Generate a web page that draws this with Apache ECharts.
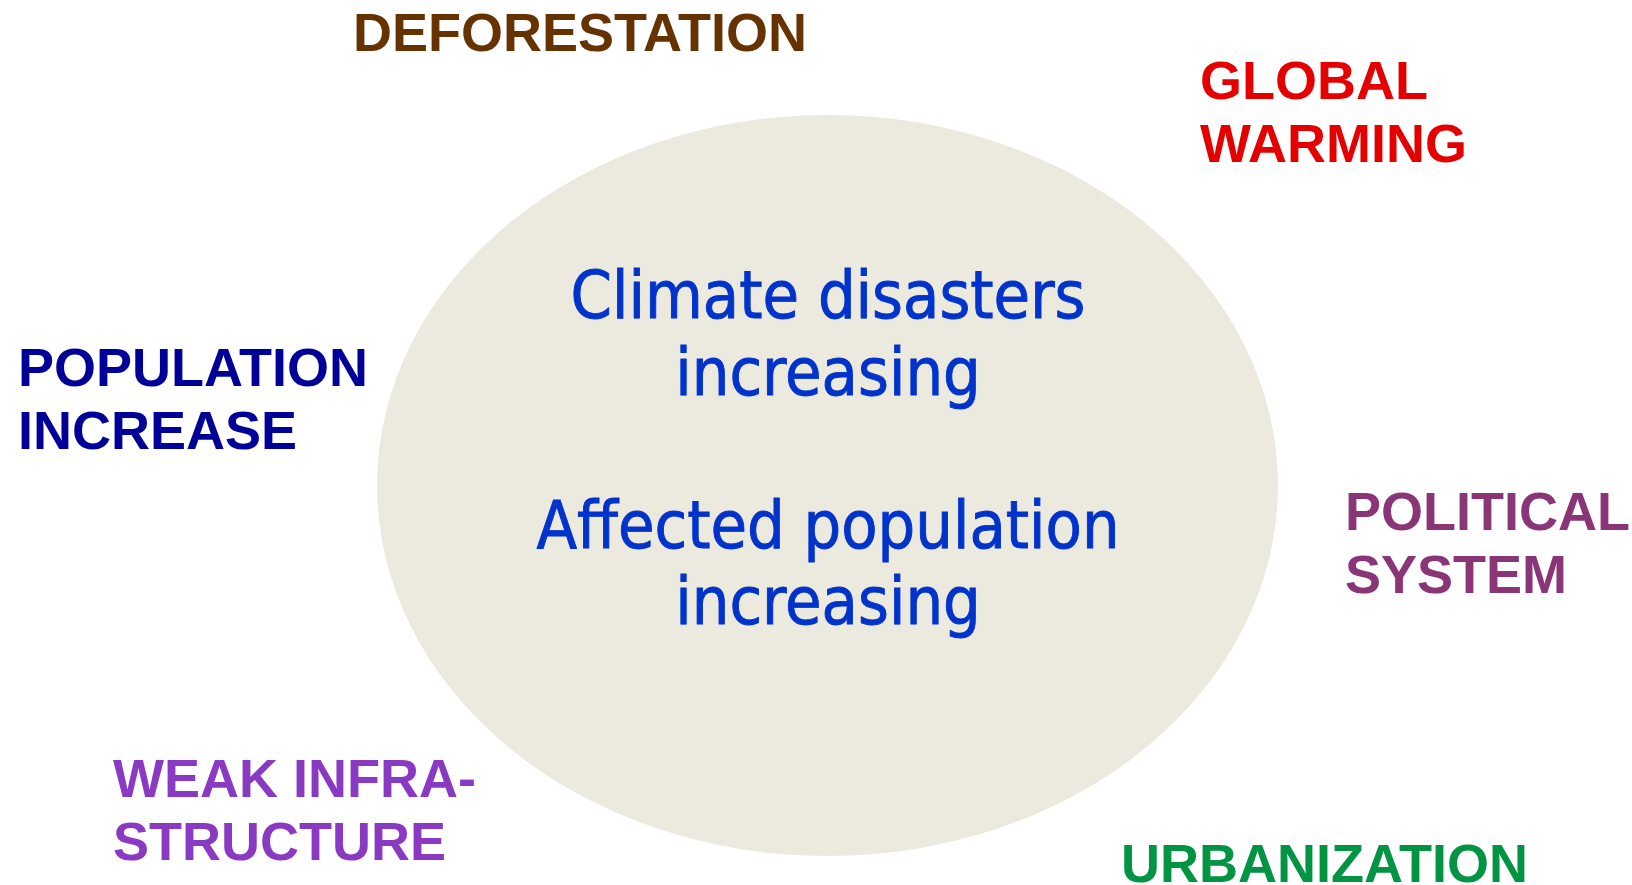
<!DOCTYPE html>
<html>
<head>
<meta charset="utf-8">
<script src="https://cdn.jsdelivr.net/npm/echarts@6/dist/echarts.min.js"></script>
<style>
  html, body { margin: 0; padding: 0; background: #ffffff; }
  #chart { width: 1632px; height: 885px; }
</style>
</head>
<body>
<div id="chart"></div>
<script>
// Factors around the core (text, anchor in diagram units = px)
const factorNames = ['DEFORESTATION', 'GLOBAL\nWARMING', 'POPULATION\nINCREASE', 'POLITICAL\nSYSTEM', 'WEAK INFRA-\nSTRUCTURE', 'URBANIZATION'];
const factorX = [353, 1200, 18, 1345, 113, 1121];
const factorY = [36, 116, 403, 547, 813.5, 867.5];
// Core ellipse and its statement
const coreCenter = [827.5, 485.5];
const coreSize = [901, 741];
const coreLines = ['Climate disasters', 'increasing', '', 'Affected population', 'increasing'];
const coreTextCenter = [828, 454];

const factorColors = ['#663300', '#E50000', '#000099', '#8B3579', '#8A3AC2', '#009443'];

const chart = echarts.init(document.getElementById('chart'));
chart.setOption({
  animation: false,
  backgroundColor: '#ffffff',
  grid: { left: 0, right: 0, top: 0, bottom: 0 },
  xAxis: { type: 'value', min: 0, max: 1632, show: false },
  yAxis: { type: 'value', min: 0, max: 885, inverse: true, show: false },
  series: [
    {
      type: 'scatter',
      z: 1,
      silent: true,
      symbol: 'path://M0,50 A50,50 0 1,1 100,50 A50,50 0 1,1 0,50 Z',
      symbolSize: coreSize,
      symbolKeepAspect: false,
      itemStyle: { color: '#ECE9DF', opacity: 1 },
      data: [coreCenter]
    },
    {
      type: 'scatter',
      z: 2,
      silent: true,
      symbolSize: 1,
      itemStyle: { color: 'rgba(0,0,0,0)', opacity: 1 },
      label: {
        show: true,
        position: 'inside',
        align: 'center',
        verticalAlign: 'middle',
        fontFamily: '"DejaVu Sans Condensed", "DejaVu Sans", sans-serif',
        fontSize: 66,
        lineHeight: 76.5,
        color: '#0033CC',
        textBorderColor: '#0033CC',
        textBorderWidth: 0.9,
        formatter: () => coreLines.join('\n')
      },
      data: [coreTextCenter]
    },
    {
      type: 'scatter',
      z: 3,
      silent: true,
      symbolSize: 1,
      itemStyle: { color: 'rgba(0,0,0,0)', opacity: 1 },
      data: factorNames.map((name, i) => ({
        value: [factorX[i], factorY[i]],
        name: name,
        label: {
          show: true,
          position: 'inside',
          align: 'left',
          verticalAlign: 'middle',
          fontFamily: '"Liberation Sans", Arial, sans-serif',
          fontWeight: 'bold',
          fontSize: 54,
          lineHeight: 63,
          color: factorColors[i],
          formatter: (p) => p.name
        }
      }))
    }
  ]
});
</script>
</body>
</html>
